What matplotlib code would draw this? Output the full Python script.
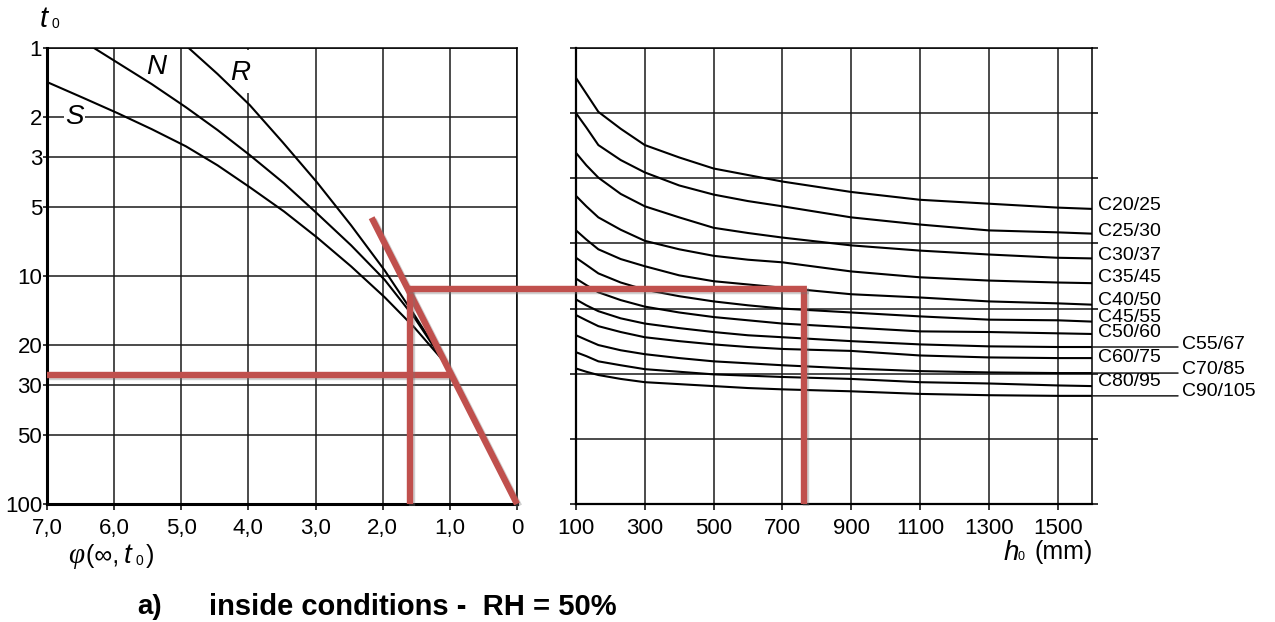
import matplotlib
matplotlib.use('Agg')
import matplotlib.pyplot as plt
import matplotlib.patheffects as pe
from matplotlib.patches import ConnectionPatch
from matplotlib.transforms import blended_transform_factory

plt.rcParams['font.family'] = ['Liberation Sans', 'DejaVu Sans']
plt.rcParams['mathtext.fontset'] = 'custom'
plt.rcParams['mathtext.rm'] = 'Liberation Serif'
plt.rcParams['mathtext.it'] = 'Liberation Serif:italic'
plt.rcParams['mathtext.fallback'] = 'stix'

# ---------------- data: left nomogram (phi vs t0) ----------------
phi_ticks = [0, 1, 2, 3, 4, 5, 6, 7]
phi_tick_labels = ['0', '1,0', '2,0', '3,0', '4,0', '5,0', '6,0', '7,0']
t0_ticks = [1, 2, 3, 5, 10, 20, 30, 50, 100]
t0_tick_labels = ['1', '2', '3', '5', '10', '20', '30', '50', '100']

S_phi = [7.00, 6.45, 5.95, 5.44, 4.93, 4.46, 3.98, 3.47, 2.98, 2.47, 1.97, 1.53, 1.10]
S_t0 = [1.41, 1.66, 1.93, 2.27, 2.70, 3.27, 4.08, 5.21, 6.77, 9.08, 12.4, 16.8, 23.5]
N_phi = [6.30, 5.95, 5.44, 4.93, 4.46, 3.98, 3.47, 2.98, 2.47, 1.97, 1.53, 1.10]
N_t0 = [1.00, 1.16, 1.44, 1.82, 2.29, 2.95, 3.92, 5.31, 7.34, 10.4, 15.2, 23.5]
R_phi = [4.89, 4.46, 3.98, 3.49, 2.98, 2.47, 1.97, 1.53, 1.10]
R_t0 = [1.00, 1.30, 1.78, 2.59, 3.88, 6.00, 9.46, 14.8, 23.5]

# ---------------- data: right nomogram (h0 vs concrete class) ----------------
h0 = [100, 130, 165, 230, 300, 400, 500, 600, 700, 900, 1100, 1300, 1500, 1600]
h0_ticks = [100, 300, 500, 700, 900, 1100, 1300, 1500]
grid_rows = [0, 1, 2, 3, 4, 5, 6, 7]
classes = ['C20/25', 'C25/30', 'C30/37', 'C35/45', 'C40/50', 'C45/55',
           'C50/60', 'C55/67', 'C60/75', 'C70/85', 'C80/95', 'C90/105']
c20 = [0.46, 0.70, 0.98, 1.24, 1.49, 1.68, 1.85, 1.95, 2.05, 2.21, 2.33, 2.39, 2.45, 2.47]
c25 = [1.00, 1.22, 1.49, 1.72, 1.91, 2.11, 2.25, 2.35, 2.43, 2.60, 2.71, 2.80, 2.83, 2.85]
c30 = [1.61, 1.80, 1.99, 2.24, 2.43, 2.60, 2.76, 2.84, 2.91, 3.03, 3.11, 3.17, 3.22, 3.23]
c35 = [2.27, 2.43, 2.60, 2.79, 2.96, 3.09, 3.19, 3.25, 3.29, 3.43, 3.52, 3.57, 3.60, 3.61]
c40 = [2.80, 2.94, 3.09, 3.24, 3.35, 3.49, 3.58, 3.63, 3.68, 3.78, 3.83, 3.89, 3.92, 3.94]
c45 = [3.22, 3.33, 3.46, 3.60, 3.71, 3.81, 3.89, 3.95, 4.00, 4.06, 4.12, 4.17, 4.18, 4.20]
c50 = [3.54, 3.64, 3.75, 3.87, 3.97, 4.06, 4.13, 4.18, 4.23, 4.29, 4.35, 4.36, 4.38, 4.39]
c55 = [3.86, 3.95, 4.04, 4.15, 4.23, 4.30, 4.36, 4.41, 4.44, 4.50, 4.55, 4.58, 4.59, 4.59]
c60 = [4.10, 4.18, 4.27, 4.36, 4.44, 4.50, 4.55, 4.59, 4.62, 4.65, 4.72, 4.75, 4.76, 4.76]
c70 = [4.41, 4.48, 4.56, 4.64, 4.70, 4.76, 4.81, 4.84, 4.87, 4.92, 4.96, 4.98, 4.99, 4.99]
c80 = [4.67, 4.73, 4.81, 4.87, 4.93, 4.97, 5.01, 5.03, 5.05, 5.08, 5.13, 5.15, 5.18, 5.19]
c90 = [4.92, 4.97, 5.02, 5.08, 5.13, 5.16, 5.19, 5.22, 5.24, 5.27, 5.31, 5.33, 5.34, 5.34]
class_curves = [c20, c25, c30, c35, c40, c45, c50, c55, c60, c70, c80, c90]

# ---------------- data: red reading lines ----------------
red_t0_level = 27.1
red_tangent_phi = [2.165, 0.0]
red_tangent_t0 = [5.55, 100]
red_tangent_hit_phi = 0.98
red_phi_read = 1.59
red_t0_h = 11.4
red_h0_read = 762

# ---------------- layout ----------------
W, H = 1275, 622
fig = plt.figure(figsize=(W / 100, H / 100), dpi=100)
fig.patch.set_facecolor('white')

top_px, bot_px = 48, 504
axL = fig.add_axes([47 / W, 1 - bot_px / H, 470 / W, (bot_px - top_px) / H])
axR = fig.add_axes([576 / W, 1 - bot_px / H, 516 / W, (bot_px - top_px) / H])

grid_kw = dict(color='#1a1a1a', lw=1.1, zorder=1)
curve_kw = dict(color='black', lw=1.5, zorder=3)
tick_fs = 16

# ---- left panel ----
axL.set_yscale('log')
axL.set_xlim(7, 0)
axL.set_ylim(100, 1)
for p in phi_ticks:
    axL.axvline(p, **grid_kw)
for t in t0_ticks:
    axL.axhline(t, **grid_kw)
axL.set_xticks(phi_ticks)
axL.set_xticklabels(phi_tick_labels, fontsize=tick_fs)
axL.set_yticks(t0_ticks)
axL.set_yticklabels(t0_tick_labels, fontsize=tick_fs)
axL.yaxis.set_minor_locator(plt.NullLocator())
axL.tick_params(axis='x', length=4, width=1.1, pad=6, direction='out')
axL.tick_params(axis='y', length=3, width=1.1, pad=0.5, direction='out')
for s in ['top', 'right']:
    axL.spines[s].set_linewidth(1.1)
for s in ['left', 'bottom']:
    axL.spines[s].set_linewidth(2.2)

axL.plot(S_phi, S_t0, **curve_kw)
axL.plot(N_phi, N_t0, **curve_kw)
axL.plot(R_phi, R_t0, **curve_kw)

# gap in the 4,0 grid line next to the "R" label
axL.plot([4, 4], [1.02, 1.58], color='white', lw=3, zorder=2, solid_capstyle='butt')

lab_kw = dict(fontsize=20, style='italic', ha='center', va='center', zorder=4)
axL.text(6.59, 2.0, 'S', bbox=dict(facecolor='white', edgecolor='none', pad=0.5), **lab_kw)
axL.text(5.37, 1.21, 'N', **lab_kw)
axL.text(4.13, 1.29, 'R', **lab_kw)

# ---- right panel ----
axR.set_xlim(100, 1600)
axR.set_ylim(7, 0)
for x in h0_ticks:
    axR.axvline(x, **grid_kw)
for r in grid_rows:
    axR.axhline(r, **grid_kw)
axR.set_xticks(h0_ticks)
axR.set_xticklabels([str(v) for v in h0_ticks], fontsize=tick_fs)
axR.set_yticks(grid_rows)
axR.set_yticklabels([])
axR.tick_params(axis='x', length=4, width=1.1, pad=6, direction='out')
axR.tick_params(axis='y', length=4, width=1.1, direction='out', left=True, right=True)
for s in axR.spines.values():
    s.set_linewidth(1.1)
axR.spines['left'].set_linewidth(1.6)
axR.spines['bottom'].set_linewidth(1.6)

for vals in class_curves:
    axR.plot(h0, vals, **curve_kw)

label_dy = [3, 2, 3, 6, 4, 4, 1, 3, 1, 4, 5, 4]
far_labels = {'C55/67', 'C70/85', 'C90/105'}
for name, vals, dy in zip(classes, class_curves, label_dy):
    if name in far_labels:
        axR.annotate('', xy=(h0[-1], vals[-1]), xytext=(86, 0), textcoords='offset pixels',
                     arrowprops=dict(arrowstyle='-', lw=1.1, color='#1a1a1a',
                                     shrinkA=0, shrinkB=0), annotation_clip=False)
        dx = 90
    else:
        dx = 6
    axR.annotate(name, xy=(h0[-1], vals[-1]), xytext=(dx, dy), textcoords='offset pixels',
                 fontsize=14, ha='left', va='center', annotation_clip=False)

# ---- red construction lines ----
red = '#C0504D'
shadow = [pe.SimpleLineShadow(offset=(1.5, -1.5), shadow_color='#777777', alpha=0.35), pe.Normal()]
red_kw = dict(color=red, lw=4.6, zorder=6, solid_capstyle='butt', path_effects=shadow, clip_on=False)

axL.plot([7, red_tangent_hit_phi], [red_t0_level, red_t0_level], **red_kw)
axL.plot(red_tangent_phi, red_tangent_t0, **red_kw)
axL.plot([red_phi_read, red_phi_read], [red_t0_h, 100], **red_kw)

blend = blended_transform_factory(axR.transData, axL.transData)
con = ConnectionPatch(xyA=(red_phi_read, red_t0_h), coordsA=axL.transData,
                      xyB=(red_h0_read, red_t0_h), coordsB=blend,
                      color=red, lw=4.6, zorder=6, capstyle='projecting')
con.set_path_effects(shadow)
fig.add_artist(con)
axR.plot([red_h0_read, red_h0_read], [red_t0_h, 100], transform=blend, **red_kw)

# ---- axis titles & caption ----
fig.text(40 / W, 1 - 19 / H, 't', fontsize=21, style='italic', ha='left', va='center')
fig.text(52 / W, 1 - 24 / H, '0', fontsize=10, ha='left', va='center')

fig.text(68 / W, 1 - 557 / H, r'$\varphi$', fontsize=21, ha='left', va='center')
fig.text(86 / W, 1 - 556 / H, '(∞, ', fontsize=18, ha='left', va='center')
fig.text(124 / W, 1 - 556 / H, 't', fontsize=20, style='italic', ha='left', va='center')
fig.text(135 / W, 1 - 561 / H, '0', fontsize=10, ha='left', va='center')
fig.text(146 / W, 1 - 556 / H, ')', fontsize=18, ha='left', va='center')

fig.text(1004 / W, 1 - 553 / H, 'h', fontsize=20, style='italic', ha='left', va='center')
fig.text(1018 / W, 1 - 557 / H, '0', fontsize=9, ha='left', va='center')
fig.text(1093 / W, 1 - 552 / H, '(mm)', fontsize=18, ha='right', va='center')

fig.text(137 / W, 1 - 607 / H, 'a)', fontsize=20, weight='bold', ha='left', va='center')
fig.text(209 / W, 1 - 607 / H, 'inside conditions -  RH = 50%', fontsize=21,
         weight='bold', ha='left', va='center')

fig.savefig('out.png', dpi=100, facecolor='white')
